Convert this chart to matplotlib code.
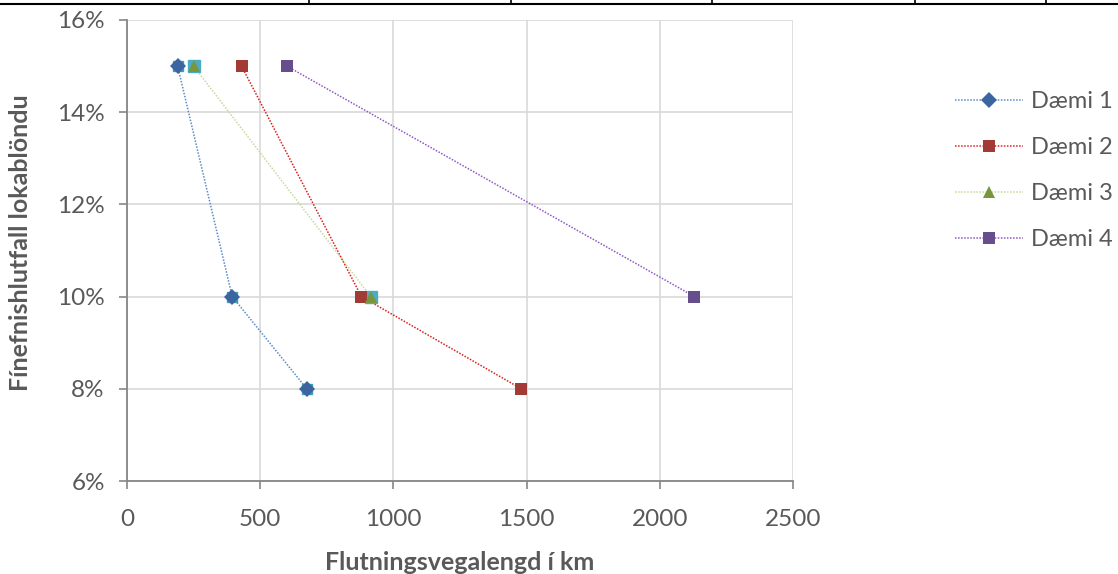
import matplotlib
matplotlib.use("Agg")
import matplotlib.pyplot as plt
from matplotlib.lines import Line2D
from matplotlib.ticker import FuncFormatter

# Fínefnishlutfall (%) á móti flutningsvegalengd (km)
daemi1_km = [190, 395, 675]
daemi1_hlutfall = [15, 10, 8]
daemi2_km = [430, 880, 1480]
daemi2_hlutfall = [15, 10, 8]
daemi3_km = [250, 915]
daemi3_hlutfall = [15, 10]
daemi4_km = [600, 2130]
daemi4_hlutfall = [15, 10]
heiti = ["Dæmi 1", "Dæmi 2", "Dæmi 3", "Dæmi 4"]

x_ticks = [0, 500, 1000, 1500, 2000, 2500]
y_ticks = [6, 8, 10, 12, 14, 16]

plt.rcParams["font.family"] = ["Lato", "DejaVu Sans"]
text_color = "#595959"
axis_color = "#868686"
grid_color = "#D9D9D9"
dot = (0, (1, 1))

fig = plt.figure(figsize=(11.18, 5.74), dpi=100)
ax = fig.add_axes([127 / 1118, 1 - 481 / 574, 666 / 1118, 461 / 574])

# faldar punktaraðir undir Dæmi 1 og Dæmi 3
ax.plot(daemi1_km, daemi1_hlutfall, linestyle="none", marker="s", markersize=7,
        color="#3E9CB0", zorder=3)
ax.plot(daemi3_km, daemi3_hlutfall, linestyle="none", marker="s", markersize=8,
        color="#4BACC6", zorder=3)

series = [
    (daemi1_km, daemi1_hlutfall, "#5B8BC8", "D", "#3B64A0", 8),
    (daemi2_km, daemi2_hlutfall, "#D8201E", "s", "#A23B36", 8),
    (daemi3_km, daemi3_hlutfall, "#C6D9A0", "^", "#77963D", 8.5),
    (daemi4_km, daemi4_hlutfall, "#8E58C8", "s", "#664D8C", 8),
]
handles = []
for (xs, ys, lc, mk, mc, ms), name in zip(series, heiti):
    ax.plot(xs, ys, color=lc, linewidth=1.1, linestyle=dot, zorder=2)
    ax.plot(xs, ys, linestyle="none", marker=mk, markersize=ms, color=mc,
            markeredgewidth=0, zorder=4)
    handles.append(Line2D([], [], color=lc, linewidth=1.1, linestyle=dot,
                          marker=mk, markersize=ms, markerfacecolor=mc,
                          markeredgewidth=0, label=name))

ax.set_xlim(0, 2500)
ax.set_ylim(6, 16)
ax.set_xticks(x_ticks)
ax.set_yticks(y_ticks)
ax.yaxis.set_major_formatter(FuncFormatter(lambda v, p: "{:.0f}%".format(v)))
ax.grid(True, color=grid_color, linewidth=1.2)
ax.set_axisbelow(True)

for s in ["top", "right"]:
    ax.spines[s].set_visible(False)
for s in ["left", "bottom"]:
    ax.spines[s].set_color(axis_color)
    ax.spines[s].set_linewidth(1.3)
ax.tick_params(axis="both", colors=axis_color, labelcolor=text_color,
               labelsize=17.5, length=6, width=1.2, direction="out")
ax.tick_params(axis="x", pad=14)
ax.tick_params(axis="y", pad=10)

ax.set_xlabel("Flutningsvegalengd í km", fontsize=18, fontweight="bold",
              color=text_color)
ax.set_ylabel("Fínefnishlutfall lokablöndu", fontsize=18, fontweight="bold",
              color=text_color)
ax.xaxis.set_label_coords(0.5, (481 - 562) / 461)
ax.xaxis.label.set_va("center")
ax.yaxis.set_label_coords((20 - 127) / 666, (481 - 243) / 461)
ax.yaxis.label.set_va("center")

fig.legend(handles=handles, loc="upper left", bbox_to_anchor=(934 / 1118, 1 - 70 / 574),
           frameon=False, fontsize=17, labelcolor=text_color, handlelength=2.85,
           handletextpad=0.35, labelspacing=1.06)

# rammi töflu efst á síðunni
fig.add_artist(Line2D([0, 1], [1 - 4 / 574, 1 - 4 / 574], color="black", linewidth=1.5,
                      transform=fig.transFigure))
for px in [309, 511, 712, 915, 1046]:
    fig.add_artist(Line2D([px / 1118, px / 1118], [1 - 4 / 574, 1], color="black",
                          linewidth=1.2, transform=fig.transFigure))

fig.savefig("out.png", dpi=100)
